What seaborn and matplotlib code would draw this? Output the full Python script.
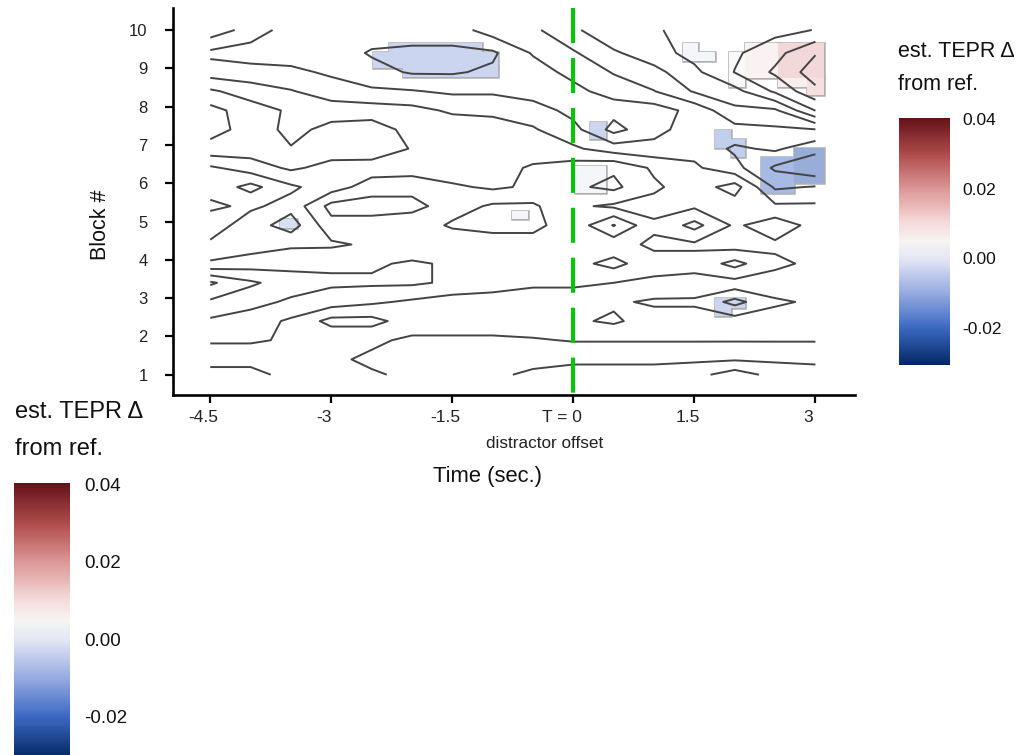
import numpy as np
import matplotlib
matplotlib.use("Agg")
import matplotlib.pyplot as plt
import matplotlib.transforms as mtransforms
import seaborn as sns
from matplotlib.colors import LinearSegmentedColormap, Normalize, to_rgb
from matplotlib.cm import ScalarMappable
from matplotlib.patches import Rectangle
from matplotlib.ticker import FuncFormatter

sns.set_theme(style="white")
plt.rcParams['font.family'] = ['Liberation Sans', 'DejaVu Sans']
plt.rcParams['axes.unicode_minus'] = False

# smooth estimate on a coarse grid (values in 1/1000)
time_sec = [-4.5, -4.0, -3.5, -3.0, -2.5, -2.0, -1.5, -1.0, -0.5, 0.0, 0.5, 1.0, 1.5, 2.0, 2.5, 3.0]
block_rows = [10.0, 9.4, 8.9, 8.4, 7.9, 7.4, 6.9, 6.4, 5.9, 5.4, 4.9, 4.4, 3.9, 3.4, 2.9, 2.4, 1.9, 1.4, 1.0]
est_x1000 = [
    [-2.65, -5.7, -9, -9, -9, -9, -9, -6, -5.1, -2.1, 1, 1.2, 2.5, 3, 3.5, 4.6],
    [-8.2, -9, -9, -9, -10.8, -11.2, -11.2, -11, -7.2, -4.85, -1.95, 0.3, 2.5, 4.0, 6.5, 10.3],
    [-6, -6.3, -6.8, -8, -9.5, -10.8, -10.8, -10, -9, -6.5, -4.3, -2.5, 0.8, 4.6, 8.0, 12],
    [-1, -3, -4.3, -6, -7, -7.3, -8, -8, -9, -8.5, -6, -4.6, -1.2, 0.5, 5, 9.8],
    [2.5, 0, -2, -3, -3, -3.5, -5, -5, -6, -8.5, -9.5, -9, -6.5, -2.2, -2, 4.6],
    [2.5, 0.5, -2.5, -0.5, 0, -2.5, -2.5, -3.5, -4.2, -6.5, -11.5, -8.5, -6, -5.5, -5, -4.6],
    [0.5, 0, -1.3, 0, 0.5, -1.7, -2.5, -3, -3.5, -4, -6, -6.5, -5.5, -8, -7, -9.5],
    [-5, -3, -1, -2.5, -3, -3, -3.5, -3, -1, 0, 1, -2, -4, -6.5, -11, -13],
    [-5.5, -8.5, -5, -3, 0, 0.5, -1, -2, -1, 1, 2.2, -1, -3, -0.2, -8, -7.3],
    [-4, -5, -3.5, 2.5, 3, 2.5, 0, 2, 2, -1, -2, -2.5, -2, -3, -4, -4],
    [-6, -3, -6, 0.5, 0, -0.5, 2, 2.5, 2.5, -0.5, 4.7, -1, 2.5, -2, 0.2, -2.5],
    [-4, -3, -2, -2, -1, -1, -1, 0, 0, 0.5, -0.5, -2, -2, -3, -2, -3],
    [-1, 0, 0.5, 1, 1, 2, 1, 1, 1, 0.5, 2.5, -0.5, -0.5, 2.5, -1, -2],
    [8, 5, 3, 2, 2, 2, 1, 0, -1, -1, -1.5, -2, -2.5, -2.5, -2.5, -3],
    [4, 2.5, 1, 0, -1, -2, -3, -3, -3, -3, -4, -5, -5, -8.5, -5, -4],
    [1, 0, -2, -5.5, -5.5, -3, -3, -3, -3.5, -4, -5, -3, -3, -3, -3, -3],
    [-1, -1, -2, -2, -2, -1, -1, -1, -1.2, -1.7, -1.7, -1.7, -1.7, -1.7, -1.7, -1.7],
    [-4, -4, -3, -2, -1, 0, 0.5, 1, 1, 1, 1, 1, 1, 1.2, 1, 1],
    [-5, -5, -4, -3, -1.8, -1, 0, 1.2, 1.8, 2.5, 2.5, 2.5, 3.5, 6, 3.5, 2.5],
]
contour_levels = [-0.0135, -0.0105, -0.0075, -0.0045, -0.0015, 0.0015, 0.0045, 0.0075, 0.0105]

# regions where the estimate differs from ref. (time from, time to, block from, block to, estimate)
sig_t0 = [-2.29, -2.48, -2.11, 1.36, 1.55, 1.93, 2.13, 2.53, 2.53, 2.90, 0.21, 1.75, 1.95, 2.32, 2.73, 0.02, -3.64, -0.76, 1.75, 1.75]
sig_t1 = [-1.13, -0.94, -0.94, 1.55, 1.75, 2.13, 2.53, 3.10, 2.90, 3.10, 0.41, 1.95, 2.13, 2.73, 3.10, 0.41, -3.43, -0.56, 2.13, 1.95]
sig_b0 = [9.42, 9.01, 8.77, 9.20, 9.20, 8.51, 8.75, 8.75, 8.51, 8.30, 7.15, 6.91, 6.68, 5.74, 6.00, 5.74, 4.82, 5.06, 2.75, 2.52]
sig_b1 = [9.66, 9.42, 9.01, 9.66, 9.42, 9.42, 9.66, 9.66, 8.75, 8.75, 7.59, 7.38, 7.15, 6.68, 6.91, 6.44, 5.06, 5.27, 2.99, 2.75]
sig_est = [-0.010, -0.010, -0.010, 0.002, 0.002, 0.004, 0.008, 0.016, 0.010, 0.014, -0.010, -0.012, -0.012, -0.018, -0.022, 0.002, -0.006, 0.002, -0.010, -0.010]

cbar_ticks = [-0.02, 0.0, 0.02, 0.04]
x_ticks = [-4.5, -3, -1.5, 0, 1.5, 3]
x_labels = ['-4.5', '-3', '-1.5', 'T = 0', '1.5', '3']
y_ticks = list(range(1, 11))

cmap = LinearSegmentedColormap.from_list('tepr', [
    (0.0, '#052864'), (0.15, '#3c69c3'), (0.29, '#96aae1'), (0.43, '#e4e6f4'),
    (0.5, '#f6f5f3'), (0.573, '#f5dcdc'), (0.714, '#dc9696'), (0.855, '#af4b4b'),
    (1.0, '#641219')])
norm = Normalize(vmin=-0.0306, vmax=0.0403)

fig = plt.figure(figsize=(10.21, 7.55), dpi=100)
ax = fig.add_axes([0.1691, 0.4768, 0.6683, 0.5126])

# significant tiles, half transparent: grey outline first, fills on top hide inner edges
for t0, t1, b0, b1 in zip(sig_t0, sig_t1, sig_b0, sig_b1):
    ax.add_patch(Rectangle((t0, b0), t1 - t0, b1 - b0, facecolor='none',
                           edgecolor='#b0b0b4', linewidth=1.8, zorder=1))
for t0, t1, b0, b1, v in zip(sig_t0, sig_t1, sig_b0, sig_b1, sig_est):
    c = np.array(to_rgb(cmap(norm(v))))
    face = 1 - 0.5 * (1 - c)
    ax.add_patch(Rectangle((t0, b0), t1 - t0, b1 - b0, facecolor=face,
                           edgecolor='none', linewidth=0, zorder=1.5))

Z = np.array(est_x1000)[::-1] / 1000.0
B = np.array(block_rows)[::-1]
ax.contour(time_sec, B, Z, levels=contour_levels, colors='#444444',
           linewidths=1.4, linestyles='solid', zorder=2)

ax.axvline(0, ymin=1, ymax=0, color='#00c800', linewidth=2.9,
           linestyle=(0, (8.7, 3.7)), dash_capstyle='butt', zorder=3)

ax.set_xlim(-4.966, 3.49)
ax.set_ylim(0.47, 10.574)
ax.set_xticks(x_ticks)
ax.set_xticklabels(x_labels)
ax.set_yticks(y_ticks)
sns.despine(ax=ax)
for s in ['left', 'bottom']:
    ax.spines[s].set_color('black')
    ax.spines[s].set_linewidth(1.9)
ax.tick_params(axis='both', which='major', direction='out', bottom=True, left=True,
               length=6, width=1.6, color='black', labelcolor='#222222')
ax.tick_params(axis='x', pad=5, labelsize=12.5)
ax.tick_params(axis='y', pad=12, labelsize=12)
for lab in ax.get_xticklabels():
    shift = -11 if lab.get_text().startswith('T') else -7
    lab.set_transform(lab.get_transform() + mtransforms.ScaledTranslation(shift / 100, 0, fig.dpi_scale_trans))
ax.set_xlabel('')
ax.set_ylabel('')

fig.text(545 / 1021, 1 - 443 / 755, 'distractor offset', ha='center', va='center', fontsize=12.3, color='#222222')
fig.text(487 / 1021, 1 - 476 / 755, 'Time (sec.)', ha='center', va='center', fontsize=15.8, color='#111111')
fig.text(101 / 1021, 1 - 225 / 755, 'Block #', ha='center', va='center', rotation=90, fontsize=15.5, color='#111111')


def add_legend(rect, title_x, base1, base2, title_size, label_size, tick_len, pad):
    cax = fig.add_axes(rect)
    cb = fig.colorbar(ScalarMappable(norm=norm, cmap=cmap), cax=cax, ticks=cbar_ticks)
    cb.outline.set_visible(False)
    cax.yaxis.set_major_formatter(FuncFormatter(lambda v, p: '%.2f' % v))
    cax.tick_params(axis='y', direction='in', length=tick_len, width=1.2, color='white',
                    left=True, right=True, labelleft=False, labelright=True,
                    labelsize=label_size, pad=pad, labelcolor='#111111')
    fig.text(title_x / 1021, 1 - base1 / 755, 'est. TEPR Δ', ha='left', va='baseline', fontsize=title_size, color='#111111')
    fig.text(title_x / 1021, 1 - base2 / 755, 'from ref.', ha='left', va='baseline', fontsize=title_size, color='#111111')


add_legend([899 / 1021, (755 - 365) / 755, 51 / 1021, 247 / 755], 898, 57, 90, 15.5, 12.5, 7, 9)
add_legend([14 / 1021, (755 - 758) / 755, 56 / 1021, 275 / 755], 15, 418, 455, 17, 13.5, 8, 10)

fig.savefig('out.png', dpi=100)
